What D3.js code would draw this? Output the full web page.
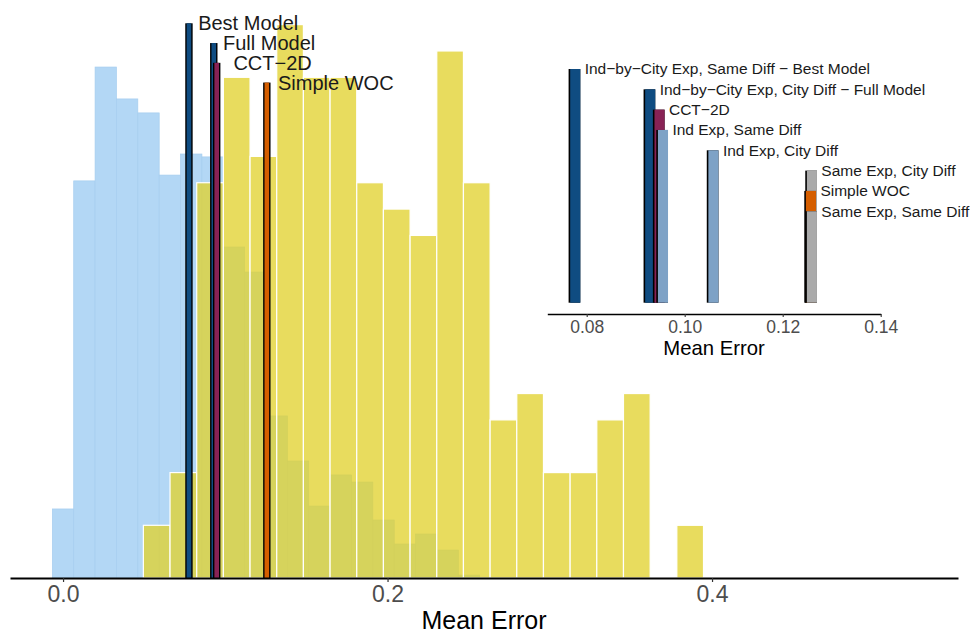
<!DOCTYPE html>
<html>
<head>
<meta charset="utf-8">
<script src="https://cdn.jsdelivr.net/npm/d3@7"></script>
<style>
body { margin: 0; background: #fff; }
svg { display: block; font-family: "Liberation Sans", Arial, sans-serif; }
</style>
</head>
<body>
<svg id="chart" width="971" height="632"></svg>
<script>
// blue histogram (light) - bins start and width in Mean Error units
var blueStart = -0.0066, blueWidth = 0.01317;
var blueCounts = [2.62, 15.07, 19.39, 18.18, 17.65, 15.29, 16.09, 15.98, 12.56, 11.61,
	6.15, 4.44, 2.73, 3.91, 3.64, 2.2, 1.29, 1.67, 1.06, 0.11];

// yellow histogram
var yellowStart = 0.0495, yellowWidth = 0.01644;
var yellowCounts = [2, 4, 15, 19, 16, 21, 19, 19, 15, 14, 13, 20, 15, 6, 7, 4, 4, 6, 7, 0, 2];

// models marked on the main chart
var models = ["Best Model", "Full Model", "CCT\u22122D", "Simple WOC"];
var modelError = [0.0776, 0.0929, 0.0947, 0.1256];
var modelLevel = [21.05, 20.3, 19.55, 18.8];

// inset
var insetNames = [
	"Ind\u2212by\u2212City Exp, Same Diff \u2212 Best Model",
	"Ind\u2212by\u2212City Exp, City Diff \u2212 Full Model",
	"CCT\u22122D",
	"Ind Exp, Same Diff",
	"Ind Exp, City Diff",
	"Same Exp, City Diff",
	"Simple WOC",
	"Same Exp, Same Diff"
];
var insetError = [0.0775, 0.0928, 0.0947, 0.0954, 0.1057, 0.1258, 0.1256, 0.1258];
var insetLevel = [11.5, 10.5, 9.5, 8.5, 7.5, 6.5, 5.5, 4.5];

var mainTicks = [0, 0.2, 0.4];
var insetTicks = [0.08, 0.10, 0.12, 0.14];

var modelColors = ["#0f4c81", "#0f4c81", "#882255", "#d55e00"];
var insetColors = ["#0f4c81", "#0f4c81", "#882255", "#7ea2c6", "#7ea2c6", "#aaaaaa", "#d55e00", "#aaaaaa"];

var svg = d3.select("#chart");

var x = d3.scaleLinear().domain([-0.0327, 0.5516]).range([10, 958]);
var y = d3.scaleLinear().domain([0, 21.05]).range([578, 23.3]);

var blueBins = blueCounts.map(function(c, i){
	return {x0: blueStart + i * blueWidth, x1: blueStart + (i + 1) * blueWidth, n: c};
});
var yellowBins = yellowCounts.map(function(c, i){
	return {x0: yellowStart + i * yellowWidth, x1: yellowStart + (i + 1) * yellowWidth, n: c};
}).filter(function(d){ return d.n > 0; });

svg.append("g").selectAll("rect")
	.data(blueBins).enter().append("rect")
	.attr("x", function(d){ return x(d.x0); })
	.attr("width", function(d){ return x(d.x1) - x(d.x0); })
	.attr("y", function(d){ return y(d.n); })
	.attr("height", function(d){ return y(0) - y(d.n); })
	.attr("fill", "#b3d7f5")
	.attr("stroke", "#a6cdef")
	.attr("stroke-width", 0.7);

svg.append("g").selectAll("rect")
	.data(yellowBins).enter().append("rect")
	.attr("x", function(d){ return x(d.x0); })
	.attr("width", function(d){ return x(d.x1) - x(d.x0); })
	.attr("y", function(d){ return y(d.n); })
	.attr("height", function(d){ return y(0) - y(d.n); })
	.attr("fill", "rgb(225,209,44)")
	.attr("fill-opacity", 0.76)
	.attr("stroke", "#fff")
	.attr("stroke-width", 1.2);

// model lines
var lw = 7.4;
var mg = svg.append("g");
models.forEach(function(m, i){
	var cx = x(modelError[i]);
	mg.append("rect")
		.attr("x", cx - lw / 2).attr("width", lw)
		.attr("y", y(modelLevel[i])).attr("height", y(0) - y(modelLevel[i]))
		.attr("fill", "#000");
	mg.append("rect")
		.attr("x", cx - lw / 2 + 1.4).attr("width", lw - 2.8)
		.attr("y", y(modelLevel[i])).attr("height", y(0) - y(modelLevel[i]))
		.attr("fill", modelColors[i]);
});
var nudge = [5.5, 5.5, 13, 7.5];
models.forEach(function(m, i){
	mg.append("text")
		.attr("x", x(modelError[i]) + lw / 2 + nudge[i])
		.attr("y", y(modelLevel[i]))
		.attr("dy", "0.35em")
		.attr("font-size", 20)
		.attr("fill", "#1a1a1a")
		.text(m);
});

// main axis
var ax = svg.append("g").attr("transform", "translate(0," + y(0) + ")")
	.call(d3.axisBottom(x).tickValues(mainTicks).tickFormat(d3.format(".1f"))
		.tickSize(4).tickSizeOuter(0).tickPadding(3.9));
ax.select(".domain").attr("stroke", "#000").attr("stroke-width", 1.8);
ax.selectAll(".tick line").attr("stroke", "#333").attr("stroke-width", 1.2);
ax.selectAll(".tick text").attr("font-size", 23).attr("fill", "#4d4d4d")
	.attr("font-family", "Liberation Sans, Arial, sans-serif");

svg.append("text")
	.attr("x", (x.range()[0] + x.range()[1]) / 2)
	.attr("y", 629)
	.attr("text-anchor", "middle")
	.attr("font-size", 25)
	.attr("fill", "#000")
	.text("Mean Error");

// inset
var xi = d3.scaleLinear().domain([0.07196, 0.14]).range([547.3, 880.7]);
var yi = d3.scaleLinear().domain([0, 11.5]).range([302.7, 69]);
var bw = 11.7;
var ig = svg.append("g");
insetNames.forEach(function(n, i){
	var cx = xi(insetError[i]);
	ig.append("rect")
		.attr("x", cx - bw / 2).attr("width", bw)
		.attr("y", yi(insetLevel[i])).attr("height", yi(0) - yi(insetLevel[i]))
		.attr("fill", "#000");
	ig.append("rect")
		.attr("x", cx - bw / 2 + 1.6).attr("width", bw - 1.6)
		.attr("y", yi(insetLevel[i])).attr("height", yi(0) - yi(insetLevel[i]))
		.attr("fill", insetColors[i]);
});
insetNames.forEach(function(n, i){
	ig.append("text")
		.attr("x", xi(insetError[i]) + bw / 2 + 4.4)
		.attr("y", yi(insetLevel[i]))
		.attr("dy", "0.35em")
		.attr("font-size", 15.5)
		.attr("fill", "#1a1a1a")
		.text(n);
});

var iax = svg.append("g").attr("transform", "translate(0,314)")
	.call(d3.axisBottom(xi).tickValues(insetTicks).tickFormat(d3.format(".2f"))
		.tickSize(3).tickSizeOuter(0).tickPadding(3.8));
iax.select(".domain").attr("stroke", "#000").attr("stroke-width", 1.6);
iax.selectAll(".tick line").attr("stroke", "#333").attr("stroke-width", 1.1);
iax.selectAll(".tick text").attr("font-size", 17.5).attr("fill", "#4d4d4d")
	.attr("font-family", "Liberation Sans, Arial, sans-serif");

svg.append("text")
	.attr("x", (xi.range()[0] + xi.range()[1]) / 2)
	.attr("y", 355)
	.attr("text-anchor", "middle")
	.attr("font-size", 20.3)
	.attr("fill", "#000")
	.text("Mean Error");
</script>
</body>
</html>
